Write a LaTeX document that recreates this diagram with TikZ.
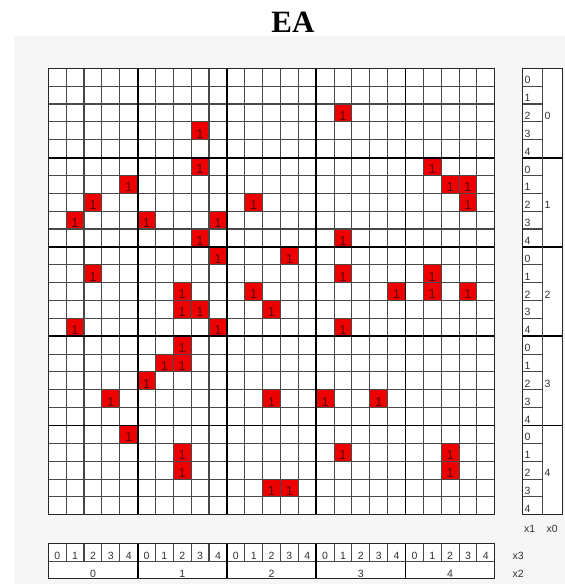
\documentclass[tikz,border=0pt]{standalone}
\usepackage{fontspec}
\setmainfont{Liberation Serif}
\setsansfont{Liberation Sans}
\definecolor{panelgray}{RGB}{246,246,246}
\definecolor{hitred}{RGB}{236,0,0}
\definecolor{hitink}{RGB}{90,8,8}
\definecolor{gridgray}{RGB}{72,72,72}
\definecolor{labelgray}{RGB}{50,50,50}

\begin{document}
\begin{tikzpicture}[x=1pt, y=-1pt,
  thin grid/.style={gridgray, line width=1.1pt},
  block grid/.style={black, line width=1.9pt},
  frame/.style={black!85, line width=1.1pt},
  one/.style={inner sep=0pt, anchor=base, text=hitink,
              font=\sffamily\fontsize{13}{13}\selectfont},
  tick/.style={inner sep=0pt, text=labelgray,
               font=\sffamily\fontsize{10.5}{10.5}\selectfont}]
  \def\gx{48.3} \def\gy{68.3} \def\cs{17.86}
  \useasboundingbox (0,0) rectangle (565,584);
  \fill[panelgray] (14,36) rectangle (565,584);

  % title
  \node[anchor=base, inner sep=0pt, font=\bfseries\fontsize{31}{31}\selectfont]
    (title) at (293,32) {EA};

  % 25 x 25 field
  \fill[white] (\gx,\gy) rectangle ++({25*\cs},{25*\cs});
  \foreach \r/\c in {2/16, 3/8, 5/8, 5/21, 6/4, 6/22, 6/23, 7/2, 7/11, 7/23,
                     8/1, 8/5, 8/9, 9/8, 9/16, 10/9, 10/13, 11/2, 11/16, 11/21,
                     12/7, 12/11, 12/19, 12/21, 12/23, 13/7, 13/8, 13/12,
                     14/1, 14/9, 14/16, 15/7, 16/6, 16/7, 17/5,
                     18/3, 18/12, 18/15, 18/18, 20/4, 21/7, 21/16, 21/22,
                     22/7, 22/22, 23/12, 23/13} {
    \fill[hitred] ({\gx+\c*\cs},{\gy+\r*\cs}) rectangle ++(\cs,\cs);
    \node[one] (h-\r-\c) at ({\gx+(\c+0.5)*\cs},{\gy+(\r+1)*\cs-1.6}) {1};
  }
  \foreach \i in {1,...,24} {
    \draw[thin grid] ({\gx+\i*\cs},\gy) -- ++(0,{25*\cs});
    \draw[thin grid] (\gx,{\gy+\i*\cs}) -- ++({25*\cs},0);
  }
  \foreach \i in {5,10,15,20} {
    \draw[block grid] ({\gx+\i*\cs},\gy) -- ++(0,{25*\cs});
    \draw[block grid] (\gx,{\gy+\i*\cs}) -- ++({25*\cs},0);
  }
  \draw[frame] (\gx,\gy) rectangle ++({25*\cs},{25*\cs});

  % right column: x1 / x0
  \fill[white] (522.3,\gy) rectangle (562.3,{\gy+25*\cs});
  \foreach \i in {1,...,24}
    \draw[thin grid] (522.3,{\gy+\i*\cs}) -- ++(20,0);
  \foreach \i in {5,10,15,20}
    \draw[block grid] (522.3,{\gy+\i*\cs}) -- ++(40,0);
  \draw[thin grid] (542.3,\gy) -- ++(0,{25*\cs});
  \draw[frame] (522.3,\gy) rectangle (562.3,{\gy+25*\cs});
  \foreach \r in {0,...,24} {
    \pgfmathtruncatemacro\d{mod(\r,5)}
    \node[tick, anchor=base west] (x1-\r) at (524.3,{\gy+(\r+1)*\cs-2.4}) {\d};
  }
  \foreach \b in {0,...,4}
    \node[tick, anchor=base west] (x0-\b) at (544.3,{\gy+(5*\b+3)*\cs-2.4}) {\b};

  % bottom rows: x3 / x2
  \fill[white] (\gx,543.3) rectangle ({\gx+25*\cs},578.3);
  \foreach \i in {1,...,24}
    \draw[thin grid] ({\gx+\i*\cs},543.3) -- ++(0,18.4);
  \draw[thin grid] (\gx,561.7) -- ++({25*\cs},0);
  \foreach \i in {5,10,15,20}
    \draw[block grid] ({\gx+\i*\cs},543.3) -- ++(0,35);
  \draw[frame] (\gx,543.3) rectangle ({\gx+25*\cs},578.3);
  \foreach \c in {0,...,24} {
    \pgfmathtruncatemacro\d{mod(\c,5)}
    \node[tick, anchor=base] (x3-\c) at ({\gx+(\c+0.5)*\cs},559.8) {\d};
  }
  \foreach \b in {0,...,4}
    \node[tick, anchor=base] (x2-\b) at ({\gx+(5*\b+2.5)*\cs},577) {\b};

  % axis names
  \node[tick, anchor=base west] (n-x1) at (524,532) {x1};
  \node[tick, anchor=base west] (n-x0) at (546.5,532) {x0};
  \node[tick, anchor=base west] (n-x3) at (512.5,559) {x3};
  \node[tick, anchor=base west] (n-x2) at (512.5,577) {x2};
\end{tikzpicture}
\end{document}
